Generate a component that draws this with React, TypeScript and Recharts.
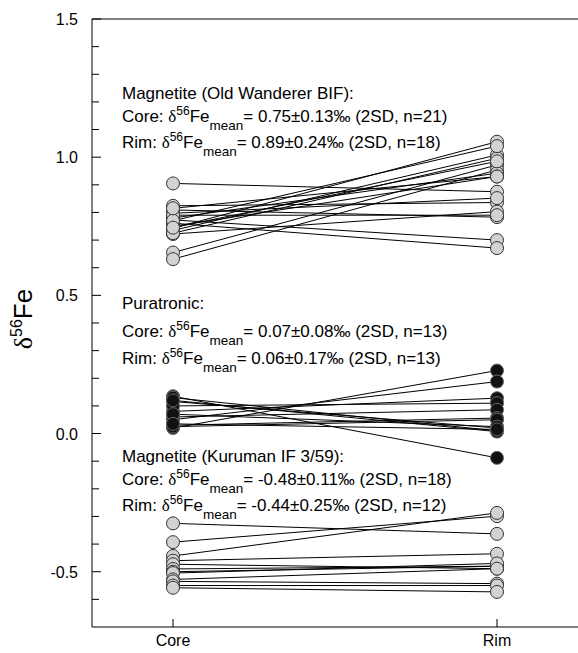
import React from "react";
import { ComposedChart, Line, Scatter, XAxis, YAxis, ReferenceLine, Customized } from "recharts";

const categories = ["Core", "Rim"];
const categoryX = [0.5, 2.5];

const owCore = [0.905, 0.824, 0.809, 0.797, 0.773, 0.761, 0.743, 0.735, 0.722, 0.655, 0.631, 0.78, 0.75, 0.725, 0.79, 0.77, 0.745, 0.815];
const owRim = [0.875, 0.836, 0.783, 0.852, 0.7, 0.671, 1.056, 1.008, 0.803, 0.972, 0.954, 0.942, 0.93, 0.996, 0.79, 1.04, 0.985, 0.93];

const puCore = [0.135, 0.13, 0.116, 0.02, 0.05, 0.08, 0.1, 0.06, 0.03, 0.025, 0.07, 0.12, 0.035];
const puRim = [-0.088, 0.01, 0.02, 0.228, 0.188, 0.128, 0.11, 0.086, 0.056, 0.05, 0.025, 0.007, 0.015];

const kuCore = [-0.325, -0.393, -0.443, -0.46, -0.473, -0.49, -0.5, -0.505, -0.528, -0.535, -0.55, -0.558];
const kuRim = [-0.363, -0.299, -0.287, -0.435, -0.489, -0.48, -0.48, -0.47, -0.489, -0.543, -0.55, -0.573];

const yTicks = [-0.6, -0.5, -0.4, -0.3, -0.2, -0.1, 0, 0.1, 0.2, 0.3, 0.4, 0.5, 0.6, 0.7, 0.8, 0.9, 1.0, 1.1, 1.2, 1.3, 1.4, 1.5];

const annotations = [
  { title: "Magnetite (Old Wanderer BIF):", core: "= 0.75±0.13‰ (2SD, n=21)", rim: "= 0.89±0.24‰ (2SD, n=18)", y: [99, 122, 148] },
  { title: "Puratronic:", core: "= 0.07±0.08‰ (2SD, n=13)", rim: "= 0.06±0.17‰ (2SD, n=13)", y: [309, 337, 364] },
  { title: "Magnetite (Kuruman IF 3/59):", core: "= -0.48±0.11‰ (2SD, n=18)", rim: "= -0.44±0.25‰ (2SD, n=12)", y: [462, 485, 511] },
];

const GRAY = "#d2d2d2";
const FONT = "Liberation Sans, Arial, sans-serif";

const pairs = (core: number[], rim: number[]) =>
  core.map((c, i) => [
    { x: categoryX[0], y: c },
    { x: categoryX[1], y: rim[i] },
  ]);

const points = (core: number[], rim: number[]) => [
  ...core.map((c) => ({ x: categoryX[0], y: c })),
  ...rim.map((r) => ({ x: categoryX[1], y: r })),
];

const groups = [
  { core: owCore, rim: owRim, fill: GRAY, stroke: "#333" },
  { core: puCore, rim: puRim, fill: "#111", stroke: "#666" },
  { core: kuCore, rim: kuRim, fill: GRAY, stroke: "#333" },
];

const YTick = (props: any) => {
  const { x, y, payload } = props;
  const v = payload.value;
  const major = Math.abs(v * 2 - Math.round(v * 2)) < 1e-6;
  const ax = x + 14;
  return (
    <g>
      <line x1={ax} x2={ax + (major ? 9 : 7)} y1={y} y2={y} stroke="#000" strokeWidth={1} />
      {major && (
        <text x={x} y={y + 6} textAnchor="end" fontSize={16} fontFamily={FONT} fill="#000">
          {v.toFixed(1)}
        </text>
      )}
    </g>
  );
};

const XTick = (props: any) => {
  const { x, y, payload } = props;
  const idx = categoryX.indexOf(payload.value);
  return (
    <g>
      <line x1={x} x2={x} y1={y} y2={y - 8} stroke="#000" strokeWidth={1} />
      <text x={x} y={y + 19} textAnchor="middle" fontSize={16} fontFamily={FONT} fill="#000">
        {categories[idx]}
      </text>
    </g>
  );
};

const Delta = () => (
  <tspan fontFamily="Liberation Serif, Times New Roman, serif">δ</tspan>
);

const Annotations = () => (
  <g fontFamily={FONT} fontSize={17} fill="#000">
    {annotations.map((a, i) => (
      <g key={i}>
        <text x={122} y={a.y[0]}>{a.title}</text>
        <text x={122} y={a.y[1]}>
          <tspan>Core: </tspan>
          <Delta />
          <tspan fontSize={12} dy={-7}>56</tspan>
          <tspan dy={7}>Fe</tspan>
          <tspan fontSize={13.5} dy={8}>mean</tspan>
          <tspan dy={-8}>{a.core}</tspan>
        </text>
        <text x={122} y={a.y[2]}>
          <tspan>Rim: </tspan>
          <Delta />
          <tspan fontSize={12} dy={-7}>56</tspan>
          <tspan dy={7}>Fe</tspan>
          <tspan fontSize={13.5} dy={8}>mean</tspan>
          <tspan dy={-8}>{a.rim}</tspan>
        </text>
      </g>
    ))}
  </g>
);

const YLabel = (props: any) => {
  const vb = props.viewBox || { x: 0, y: 19, width: 92, height: 608 };
  const cx = vb.x + 32;
  const cy = vb.y + vb.height / 2 - 4;
  return (
    <text
      x={cx}
      y={cy}
      transform={`rotate(-90, ${cx}, ${cy})`}
      textAnchor="middle"
      fontSize={26}
      fontFamily={FONT}
      fill="#000"
    >
      <tspan fontFamily="Liberation Serif, Times New Roman, serif">δ</tspan>
      <tspan fontSize={16} dy={-10}>56</tspan>
      <tspan dy={10}>Fe</tspan>
    </text>
  );
};

export default function App() {
  return (
    <div style={{ position: "absolute", left: 0, top: 0, background: "#fff" }}>
      <ComposedChart width={578} height={653} margin={{ top: 19, right: 0, bottom: 0, left: 0 }}>
        <XAxis
          type="number"
          dataKey="x"
          domain={[0, 3]}
          ticks={categoryX}
          interval={0}
          height={26}
          tickSize={0}
          tickMargin={0}
          tick={<XTick />}
          axisLine={{ stroke: "#000", strokeWidth: 1 }}
          allowDuplicatedCategory={false}
        />
        <YAxis
          type="number"
          dataKey="y"
          domain={[-0.7, 1.5]}
          ticks={yTicks}
          interval={0}
          width={92}
          tickSize={0}
          tickMargin={14}
          tick={<YTick />}
          axisLine={{ stroke: "#000", strokeWidth: 1 }}
          label={{ content: (p: any) => <YLabel {...p} /> }}
        />
        <ReferenceLine y={1.5} stroke="#000" strokeWidth={1} />
        {groups.map((g, gi) =>
          pairs(g.core, g.rim).map((d, i) => (
            <Line
              key={`l${gi}-${i}`}
              data={d}
              dataKey="y"
              stroke="#000"
              strokeWidth={1}
              dot={false}
              activeDot={false}
              isAnimationActive={false}
              legendType="none"
            />
          ))
        )}
        {groups.map((g, gi) => (
          <Scatter
            key={`s${gi}`}
            data={points(g.core, g.rim)}
            dataKey="y"
            isAnimationActive={false}
            shape={(p: any) => (
              <circle cx={p.cx} cy={p.cy} r={6.5} fill={g.fill} stroke={g.stroke} strokeWidth={1} />
            )}
          />
        ))}
        <Customized component={<Annotations />} />
      </ComposedChart>
    </div>
  );
}
